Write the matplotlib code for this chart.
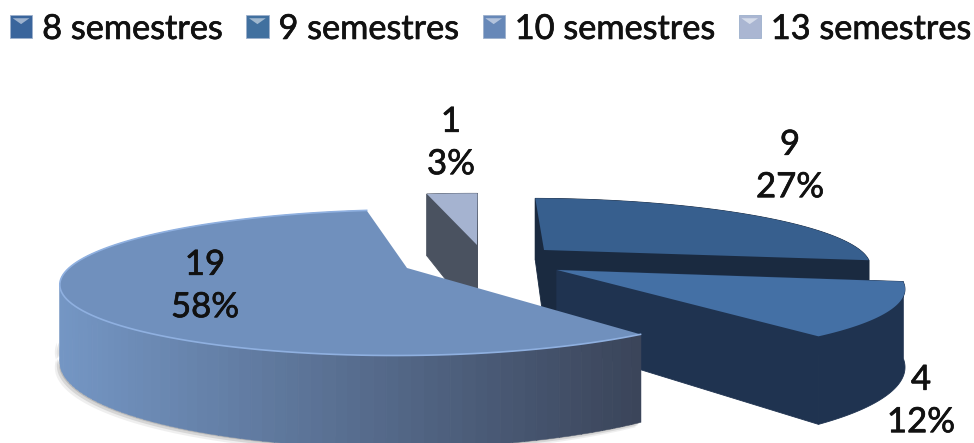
### 3D exploded pie, semesters
import numpy as np
import matplotlib
matplotlib.use('Agg')
import matplotlib.pyplot as plt
import matplotlib.patheffects as pe
from matplotlib.patches import Patch, Rectangle, Polygon
from matplotlib.legend_handler import HandlerBase
from matplotlib.colors import to_rgb

categories = ['8 semestres', '9 semestres', '10 semestres', '13 semestres']
values = [9, 4, 19, 1]

top_colors = ['#375f8e', '#4470a5', '#7090bd', '#a5b3d0']
side_colors = ['#1a2a40', '#1f3350', '#7496c4', '#4a5260']
legend_colors = ['#3a659c', '#41709f', '#6788b8', '#aab6d2']

# apex x, apex y, a, b, shear for each slice, picture pixels
geom = [(544, 250, 316, 62, -16),
        (557, 270, 336, 70, -21),
        (407, 268, 338, 70, 10),
        (477, 245, 320, 62, -5)]
persp = 0.2
depth = 74
label_pos = [(790, 166), (921, 401), (205, 286), (451, 143)]

plt.rcParams['font.family'] = ['Lato', 'DejaVu Sans']
thick = [pe.withStroke(linewidth=0.5, foreground='#111111')]

fig = plt.figure(figsize=(9.74, 4.43), dpi=100)
ax = fig.add_axes([0, 0, 1, 1])
ax.set_xlim(0, 974)
ax.set_ylim(443, 0)
ax.axis('off')


def project(theta, r, g, drop=0.0):
    ax0, ay0, a, b, sh = g
    X = r * np.cos(np.radians(theta))
    Y = r * np.sin(np.radians(theta))
    s = 1 / (1 + persp * Y)
    return ax0 + s * (a * X + sh * Y), ay0 + s * (-b * Y + drop)


total = sum(values)
sweep = 360 * np.array(values) / total
start = 89.0
bounds = []
for sw in sweep:
    bounds.append((start - sw, start))
    start -= sw


def draw_slice(i, z):
    g = geom[i]
    t1, t2 = bounds[i]
    th = np.linspace(t1, t2, 120)
    xt, yt = project(th, 1, g)
    xb, yb = project(th, 1, g, depth)
    x0, y0 = project(0, 0, g)
    x0b, y0b = project(0, 0, g, depth)

    # shadow on the floor
    if i == 2:
        for off, al in [(5, 0.10), (3, 0.18), (1, 0.25)]:
            ax.fill(np.r_[xb[50:], xb[50:][::-1]] - off, np.r_[yb[50:] - 10, yb[50:][::-1] + off],
                    color='#666666', alpha=al, lw=0, zorder=z)

    # cut faces
    if i != 2:
        for th_end in (t1, t2):
            xe, ye = project(th_end, 1, g)
            xf, yf = project(th_end, 1, g, depth)
            ax.fill([x0, xe, xf, x0b], [y0, ye, yf, y0b], color=side_colors[i], lw=0.6, zorder=z + 0.1)

    # outer wall, big slice goes from blue to dark slate
    if i == 2:
        c1 = np.array(to_rgb('#3a4459'))
        c2 = np.array(to_rgb(side_colors[i]))
        for k in range(len(th) - 1):
            f = np.clip((xt[k] - 60) / (637 - 60), 0, 1)
            ax.fill([xt[k], xt[k + 1] + 0.5, xb[k + 1] + 0.5, xb[k]], [yt[k], yt[k + 1], yb[k + 1], yb[k]],
                    color=c2 * (1 - f) + c1 * f, lw=0.3, zorder=z + 0.1)
    else:
        ax.fill(np.r_[xt, xb[::-1]], np.r_[yt, yb[::-1]], color=side_colors[i], lw=0.6, zorder=z + 0.1)

    # top face
    ax.fill(np.r_[x0, xt], np.r_[y0, yt], color=top_colors[i], lw=0, zorder=z + 0.5)
    if i == 2:
        ax.plot(xt[th < 180], yt[th < 180], color='#8fb0e0', lw=1.2, zorder=z + 0.6)


# back to front
for z, i in enumerate([0, 1, 3, 2]):
    draw_slice(i, z + 1)

for v, (lx, ly) in zip(values, label_pos):
    ax.text(lx, ly, '%d\n%d%%' % (v, round(100 * v / total)), ha='center', va='center',
            fontsize=25, color='#111111', linespacing=1.4, zorder=10, path_effects=thick)


class BevelHandler(HandlerBase):
    def create_artists(self, legend, orig, xd, yd, w, h, fs, trans):
        c = orig.get_facecolor()
        sq = Rectangle((-xd, -yd), w, h, facecolor=c, edgecolor='#9db0cc', lw=0.6, transform=trans)
        light = np.array(to_rgb(c)) * 0.5 + 0.5
        tri = Polygon([(-xd + 2, h - yd - 2), (w - xd - 2, h - yd - 2), (w / 2 - xd, h / 2 - yd + 2)],
                      facecolor=light, lw=0, transform=trans)
        return [sq, tri]


handles = [Patch(facecolor=c) for c in legend_colors]
leg = ax.legend(handles, categories, handler_map={Patch: BevelHandler()}, ncol=4, frameon=False,
                loc='upper left', bbox_to_anchor=(0.0, 1 - 3 / 443), borderaxespad=0, borderpad=0.29,
                fontsize=24.7, handlelength=0.65, handleheight=0.65, handletextpad=0.29, columnspacing=0.69,
                labelcolor='#111111')
for t in leg.get_texts():
    t.set_path_effects(thick)

fig.savefig('out.png', dpi=100)
